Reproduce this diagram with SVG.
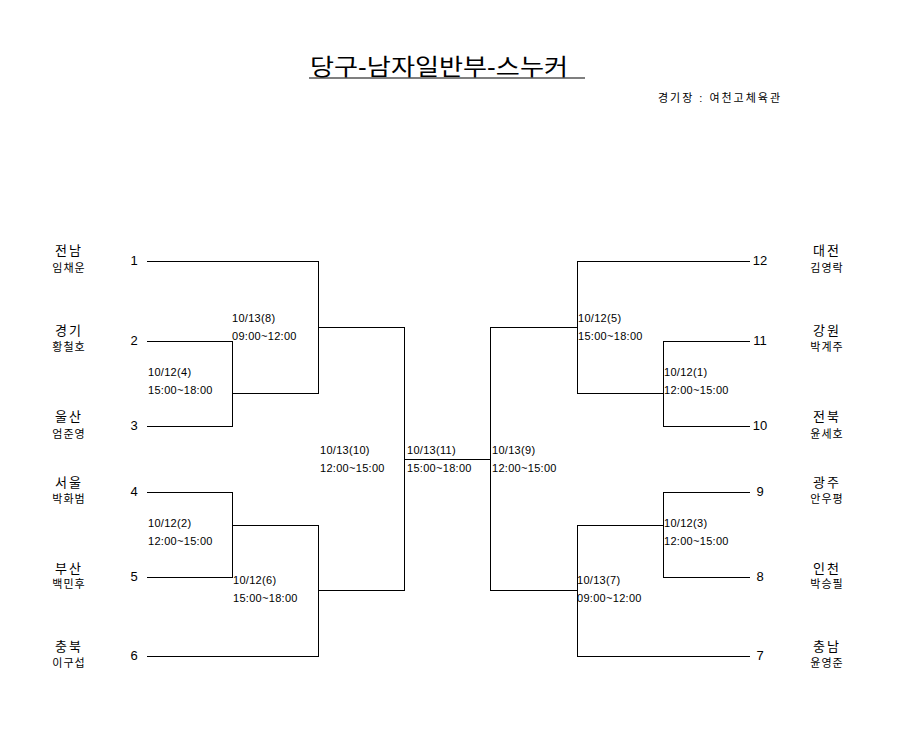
<svg xmlns="http://www.w3.org/2000/svg" width="900" height="750" viewBox="0 0 900 750">
<style>
text{font-family:"Liberation Sans","Noto Sans CJK KR",sans-serif;fill:#000}
.t{font-size:13px;text-anchor:middle;letter-spacing:2px}
.p{font-size:11px;text-anchor:middle;letter-spacing:1px}
.n{font-size:13px;text-anchor:middle}
.m{font-size:11px;letter-spacing:0.3px}
.ln{stroke:#000;stroke-width:1;fill:none;shape-rendering:crispEdges}
</style>
<rect width="900" height="750" fill="#fff"/>
<g id="title">
<text x="310" y="75" style="font-size:23px" textLength="258" lengthAdjust="spacingAndGlyphs">당구-남자일반부-스누커</text>
<line x1="309" y1="78" x2="585" y2="78" stroke="#000" stroke-width="1.2"/>
<text x="658" y="102" style="font-size:11px" textLength="122">경기장 : 여천고체육관</text>
</g>
<g id="connectors" class="ln">
<path d="M147 261H318V393H232"/>
<path d="M147 341H232V426H147"/>
<path d="M318 327H404V590H318"/>
<path d="M147 492H232V577H147"/>
<path d="M232 525H318V656H147"/>
<path d="M404 459H490"/>
<path d="M750 261H577V393H663"/>
<path d="M750 341H663V426H750"/>
<path d="M577 327H490V590H577"/>
<path d="M750 492H663V577H750"/>
<path d="M663 525H577V656H750"/>
</g>
<g id="p1"><text class="t" x="69" y="255">전남</text><text class="p" x="69" y="272">임채운</text><text class="n" x="134" y="265">1</text></g>
<g id="p2"><text class="t" x="69" y="335">경기</text><text class="p" x="69" y="351">황철호</text><text class="n" x="134" y="345">2</text></g>
<g id="p3"><text class="t" x="69" y="421">울산</text><text class="p" x="69" y="438">엄준영</text><text class="n" x="134" y="430">3</text></g>
<g id="p4"><text class="t" x="69" y="487">서울</text><text class="p" x="69" y="503">박화범</text><text class="n" x="134" y="496">4</text></g>
<g id="p5"><text class="t" x="69" y="573">부산</text><text class="p" x="69" y="588">백민후</text><text class="n" x="134" y="581">5</text></g>
<g id="p6"><text class="t" x="69" y="651">충북</text><text class="p" x="69" y="667">이구섭</text><text class="n" x="134" y="660">6</text></g>
<g id="p12"><text class="t" x="827" y="255">대전</text><text class="p" x="827" y="272">김영락</text><text class="n" x="760" y="265">12</text></g>
<g id="p11"><text class="t" x="827" y="335">강원</text><text class="p" x="827" y="351">박계주</text><text class="n" x="760" y="345">11</text></g>
<g id="p10"><text class="t" x="827" y="421">전북</text><text class="p" x="827" y="438">윤세호</text><text class="n" x="760" y="430">10</text></g>
<g id="p9"><text class="t" x="827" y="487">광주</text><text class="p" x="827" y="503">안우평</text><text class="n" x="760" y="496">9</text></g>
<g id="p8"><text class="t" x="827" y="573">인천</text><text class="p" x="827" y="588">박승필</text><text class="n" x="760" y="581">8</text></g>
<g id="p7"><text class="t" x="827" y="651">충남</text><text class="p" x="827" y="667">윤영준</text><text class="n" x="760" y="660">7</text></g>
<g id="m4"><text class="m" x="148" y="376">10/12(4)</text><text class="m" x="148" y="394">15:00~18:00</text></g>
<g id="m8"><text class="m" x="232" y="322">10/13(8)</text><text class="m" x="232" y="340">09:00~12:00</text></g>
<g id="m2"><text class="m" x="148" y="527">10/12(2)</text><text class="m" x="148" y="545">12:00~15:00</text></g>
<g id="m6"><text class="m" x="233" y="584">10/12(6)</text><text class="m" x="233" y="602">15:00~18:00</text></g>
<g id="m10"><text class="m" x="320" y="454">10/13(10)</text><text class="m" x="320" y="472">12:00~15:00</text></g>
<g id="m11"><text class="m" x="407" y="454">10/13(11)</text><text class="m" x="407" y="472">15:00~18:00</text></g>
<g id="m9"><text class="m" x="492" y="454">10/13(9)</text><text class="m" x="492" y="472">12:00~15:00</text></g>
<g id="m5"><text class="m" x="578" y="322">10/12(5)</text><text class="m" x="578" y="340">15:00~18:00</text></g>
<g id="m1"><text class="m" x="664" y="376">10/12(1)</text><text class="m" x="664" y="394">12:00~15:00</text></g>
<g id="m3"><text class="m" x="664" y="527">10/12(3)</text><text class="m" x="664" y="545">12:00~15:00</text></g>
<g id="m7"><text class="m" x="577" y="584">10/13(7)</text><text class="m" x="577" y="602">09:00~12:00</text></g>
</svg>
